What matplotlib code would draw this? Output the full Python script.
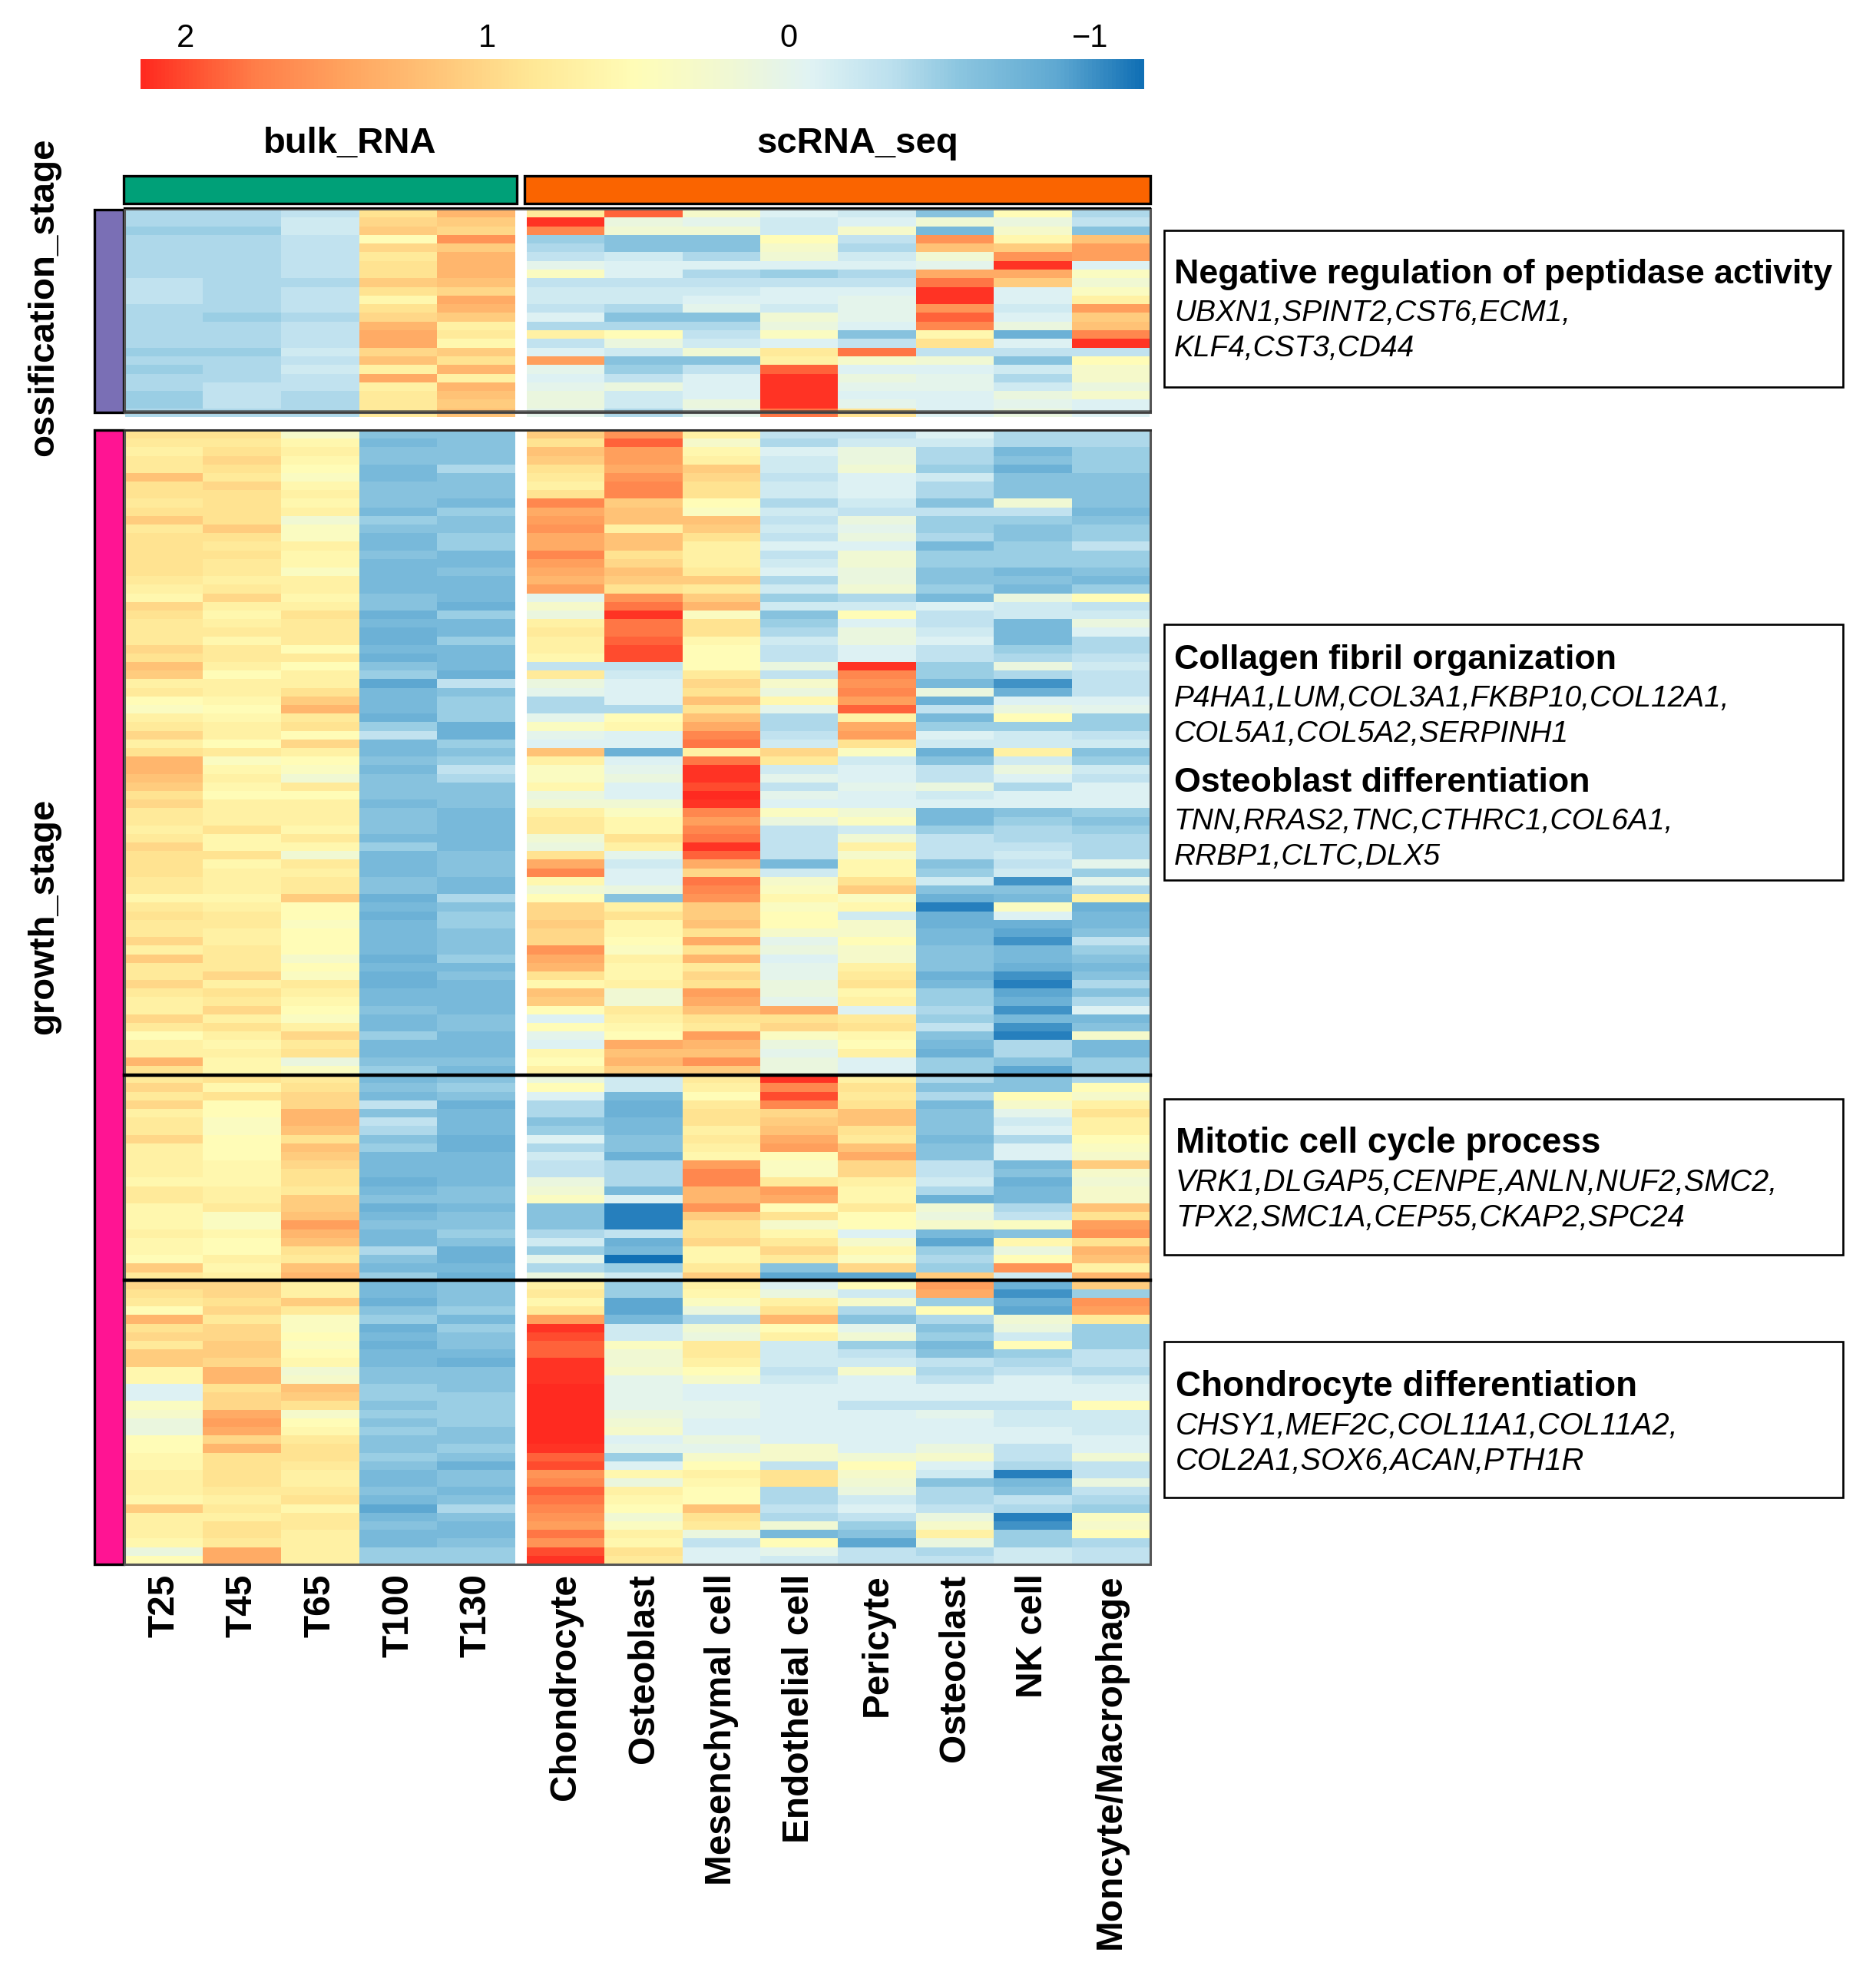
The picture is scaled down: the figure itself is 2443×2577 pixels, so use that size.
import numpy as np
import matplotlib
matplotlib.use("Agg")
import matplotlib.pyplot as plt
from matplotlib.colors import LinearSegmentedColormap
from matplotlib.patches import Rectangle

plt.rcParams['font.family'] = ['Liberation Sans', 'DejaVu Sans']

W, H = 2443, 2577

bulk_labels = ["T25", "T45", "T65", "T100", "T130"]
sc_labels = ["Chondrocyte", "Osteoblast", "Mesenchymal cell", "Endothelial cell",
             "Pericyte", "Osteoclast", "NK cell", "Moncyte/Macrophage"]
cbar_ticks = [2, 1, 0, -1]

# values in tenths of a unit, columns: T25..T130, then the eight cell types
ossification_rows = [
[-4,-4,-3,9,13,8,19,3,-1,-2,-6,5,-4],
[-4,-4,-2,10,11,21,1,0,-2,-1,2,1,-3],
[-5,-5,-2,11,10,17,2,2,-2,3,-7,3,-6],
[-4,-4,-3,5,16,-5,-6,-6,5,-3,16,6,12],
[-4,-4,-3,10,11,-4,-6,-6,3,-4,12,11,15],
[-4,-4,-3,8,13,-3,-2,-4,2,-2,2,16,15],
[-4,-4,-3,9,13,0,-1,-1,-1,-1,0,21,-1],
[-4,-4,-3,9,13,4,-1,-4,-5,-4,14,14,4],
[-3,-4,-4,11,12,-3,-3,-3,-3,-3,18,11,2],
[-3,-4,-3,9,10,-2,-2,-2,-1,-1,21,-1,4],
[-3,-4,-3,6,14,-2,-2,-1,-1,0,21,-1,7],
[-4,-4,-3,9,13,-3,-4,0,-2,0,16,-2,15],
[-4,-5,-4,10,11,-1,-6,-6,2,0,19,-1,11],
[-4,-4,-3,13,7,-4,-4,-4,1,-1,17,1,12],
[-4,-4,-3,14,8,7,5,-3,4,-6,6,-8,17],
[-4,-4,-3,14,6,-3,1,-2,-1,-3,9,-1,21],
[-5,-5,-2,10,11,-1,-2,2,8,18,-3,-3,-3],
[-4,-4,-3,12,9,15,-6,-6,7,3,2,-6,5],
[-5,-4,-2,7,13,0,-5,-3,19,-1,-1,-2,3],
[-4,-4,-3,14,7,-1,-3,-1,21,1,0,-4,3],
[-4,-3,-3,7,13,0,1,-1,21,0,0,-2,1],
[-5,-3,-4,8,12,1,-2,-1,21,-1,-1,1,3],
[-5,-3,-4,8,11,1,-2,1,21,0,-1,0,-1],
[-4,-4,-4,8,12,0,-4,0,18,9,-1,1,-1],
]
growth_rows_a = [
[9,9,3,-6,-6,11,16,7,-3,-3,-1,-4,-4],
[8,8,6,-7,-6,9,19,3,-4,-2,-2,-4,-4],
[7,9,7,-6,-6,12,15,6,-1,1,-4,-7,-5],
[8,10,6,-6,-6,11,15,7,-2,1,-4,-6,-5],
[8,9,5,-7,-4,9,14,11,-2,2,-5,-8,-5],
[12,8,4,-7,-6,8,16,10,-3,-1,-2,-6,-6],
[9,10,6,-6,-6,7,17,9,-2,-1,-4,-6,-6],
[9,9,7,-6,-6,9,17,9,-2,-1,-4,-6,-6],
[8,9,6,-6,-7,17,11,5,-4,-2,-6,2,-6],
[9,9,7,-7,-5,14,12,4,-2,-3,-3,-3,-7],
[11,9,2,-5,-6,15,12,12,-3,1,-5,-5,-6],
[8,11,4,-6,-6,16,7,11,-2,0,-5,-6,-5],
[9,9,4,-7,-5,14,12,9,-3,1,-4,-6,-5],
[9,8,7,-7,-5,14,12,7,-1,-1,-7,-5,-3],
[9,9,6,-6,-7,17,9,7,-3,2,-5,-5,-5],
[9,8,6,-7,-7,15,10,7,-2,2,-5,-5,-5],
[9,8,4,-7,-6,14,12,8,-1,1,-6,-7,-6],
[8,7,7,-7,-7,13,11,11,-4,1,-6,-6,-7],
[7,8,7,-7,-7,15,9,8,-2,2,-5,-7,-5],
[6,10,6,-6,-7,0,16,11,-5,-4,-7,1,5],
[10,7,7,-6,-8,3,18,13,-2,-2,-1,-2,-3],
[9,6,9,-8,-5,1,21,4,-6,5,-3,-2,-2],
[8,7,8,-7,-7,7,18,9,-5,-1,-3,-7,1],
[8,8,8,-8,-7,8,18,9,-4,1,-2,-7,-1],
[8,6,8,-8,-5,7,19,6,-2,1,-1,-7,-4],
[10,8,5,-7,-7,7,20,5,-3,-1,-3,-5,-4],
[9,8,8,-8,-7,6,20,5,-3,-1,-3,-4,-3],
[12,7,5,-6,-7,-3,-3,5,1,21,-5,1,-2],
[11,5,7,-5,-8,8,-2,8,-3,17,-5,-4,-3],
[7,7,7,-9,-3,1,-1,10,3,16,-7,-10,-3],
[8,7,9,-7,-6,0,-1,9,1,17,1,-8,-3],
[5,6,11,-7,-5,-4,-1,12,6,15,-8,-1,-1],
[4,5,13,-7,-5,-4,-4,9,0,19,-3,1,0],
[7,6,8,-8,-5,0,5,12,-4,7,-7,5,-5],
[8,7,9,-5,-8,4,6,14,-4,14,-5,-5,-5],
[10,7,5,-3,-8,0,-1,17,-3,15,-1,-2,-3],
[7,5,10,-7,-5,-1,-1,18,-2,9,-2,-2,-2],
[9,8,7,-7,-6,12,-8,7,10,4,-8,7,-6],
[13,4,5,-6,-5,7,-1,18,8,-2,-6,-2,-5],
[13,6,4,-7,-3,4,0,21,-2,-1,-3,1,-2],
[12,7,2,-6,-4,4,1,21,0,-1,-3,-1,-3],
[11,6,8,-6,-6,6,-1,20,-3,0,1,-4,-1],
[9,5,5,-6,-6,1,-1,22,0,-1,-2,-1,-1],
[10,7,7,-7,-6,2,2,21,-1,-1,-1,-1,-1],
[8,7,7,-6,-7,7,4,17,4,2,-7,-6,-5],
[8,7,7,-6,-7,8,6,15,1,4,-7,-5,-6],
[7,9,6,-6,-7,8,6,17,-3,-2,-5,-4,-5],
[8,6,8,-7,-7,2,9,18,-3,2,-3,-4,-4],
[10,6,6,-5,-7,1,7,21,-3,7,-3,-3,-4],
[9,9,2,-7,-6,9,0,19,-3,3,-3,-2,-4],
[9,6,8,-7,-6,14,-2,14,-7,6,-6,-3,0],
[9,7,7,-7,-6,17,-1,10,-2,6,-5,-2,-5],
[8,7,8,-6,-7,6,-1,18,3,9,-2,-10,0],
[8,7,8,-6,-7,2,1,17,4,11,-6,-6,-4],
[6,6,11,-8,-4,5,-6,16,6,4,-8,-7,7],
[8,7,5,-7,-6,10,7,11,4,6,-11,4,-8],
[9,8,5,-8,-5,10,9,11,5,-2,-8,-1,-7],
[8,8,4,-7,-5,11,6,12,5,3,-8,-8,-7],
[8,7,5,-7,-6,10,6,9,3,3,-7,-9,-6],
[10,7,5,-7,-6,10,5,14,0,5,-7,-10,-3],
[7,8,5,-7,-6,16,4,9,1,3,-6,-7,-5],
[11,8,3,-8,-5,14,7,13,-1,3,-6,-7,-6],
[8,8,5,-7,-7,13,6,8,0,7,-6,-8,-7],
[8,10,4,-8,-6,9,6,10,0,8,-8,-10,-6],
[10,7,8,-8,-7,6,7,9,1,9,-7,-11,-4],
[8,9,7,-7,-7,12,2,15,1,6,-5,-9,-6],
[7,8,6,-7,-7,11,2,14,0,7,-5,-8,-4],
[7,10,5,-6,-7,5,8,12,14,-1,-4,-10,-1],
[10,7,4,-7,-6,-1,7,9,9,8,-5,-7,-7],
[8,9,7,-7,-6,5,6,8,10,9,-3,-10,-6],
[5,7,10,-5,-7,0,5,15,4,6,-6,-11,3],
[7,6,8,-7,-7,-1,14,13,1,5,-7,-4,-7],
[7,7,9,-7,-7,6,12,12,0,7,-8,-4,-7],
[13,6,1,-6,-6,5,13,16,1,-1,-5,-6,-5],
[9,6,4,-5,-7,7,11,11,1,-1,-5,-9,-5],
]
growth_rows_b = [
[8,9,8,-7,-6,1,-2,8,21,7,-4,-6,-4],
[10,6,9,-6,-5,5,-2,7,17,9,-6,-6,5],
[8,9,10,-7,-6,-1,-7,5,20,8,-4,5,3],
[10,5,10,-3,-8,-4,-8,8,17,9,-7,3,7],
[7,5,13,-6,-7,-4,-8,9,10,12,-6,0,9],
[8,4,13,-3,-7,-6,-7,9,11,12,-6,-2,7],
[8,4,12,-4,-7,-5,-7,7,12,9,-6,-1,7],
[10,5,9,-6,-8,-1,-6,8,14,8,-7,-4,5],
[7,5,12,-5,-8,-4,-6,7,15,12,-6,-1,4],
[7,5,11,-7,-7,-2,-8,6,5,14,-6,-1,3],
[7,6,10,-7,-7,-3,-4,15,4,10,-3,-7,11],
[7,6,9,-7,-7,-3,-4,17,4,10,-3,-6,3],
[6,6,9,-8,-7,1,-4,17,8,7,-2,-8,2],
[8,7,8,-7,-6,2,-7,13,15,6,-4,-7,3],
[8,7,11,-6,-6,4,-1,13,14,6,-8,-7,3],
[6,8,11,-8,-7,-6,-11,16,5,8,2,-4,12],
[6,4,12,-7,-6,-6,-11,11,9,5,1,-3,9],
[6,4,15,-6,-6,-6,-11,9,3,5,3,4,15],
[7,6,13,-7,-5,-4,-3,9,6,-1,-7,-6,16],
[6,5,12,-7,-6,-2,-8,10,8,3,-9,6,9],
[6,5,9,-4,-8,-5,-7,6,10,6,-5,1,13],
[5,7,8,-6,-8,0,-12,6,8,4,-4,5,12],
[11,6,12,-7,-7,-4,-5,8,-6,10,-5,16,7],
[8,7,13,-5,-8,1,-2,11,-9,-9,11,-2,13],
]
growth_rows_c = [
[10,10,7,-7,-6,7,-5,7,-1,5,15,-8,11],
[9,10,7,-7,-6,8,-5,6,1,-2,14,-10,-5],
[8,9,11,-8,-6,6,-9,4,7,3,-5,-8,16],
[5,10,8,-6,-5,8,-9,1,9,-4,5,-9,15],
[13,8,4,-5,-7,15,-7,-4,13,-6,-4,2,8],
[9,10,4,-8,-5,21,-2,2,5,0,-6,1,-5],
[10,10,5,-7,-6,20,-2,1,7,2,-5,-2,-5],
[8,11,4,-8,-6,19,4,8,-2,-5,-7,5,-5],
[11,11,5,-7,-7,19,2,8,-2,-3,-6,-5,-3],
[11,10,6,-7,-8,21,2,7,-2,-2,-3,-4,-3],
[6,13,2,-6,-6,21,3,5,-3,3,-4,-3,-4],
[6,13,3,-6,-6,21,0,3,-2,-1,-3,-1,-2],
[-1,9,12,-5,-6,22,0,-1,-1,-1,-1,-1,-1],
[-1,10,11,-5,-5,22,0,-1,-1,-1,-1,-1,-1],
[4,10,9,-6,-5,22,0,0,-1,-3,-3,-3,5],
[3,14,3,-5,-5,22,1,0,-1,-1,0,-2,-2],
[1,15,5,-6,-5,22,2,-1,-1,-1,-1,-2,-2],
[1,14,6,-5,-6,22,3,-1,-1,-1,-1,-1,-2],
[5,10,8,-6,-6,22,-1,1,-1,-1,-1,-1,-1],
[5,13,9,-6,-5,21,0,0,3,-1,1,-3,-1],
[6,9,9,-5,-6,19,-5,3,3,2,3,-3,2],
[6,9,8,-6,-8,20,-1,5,-3,5,-1,-4,-3],
[7,9,7,-7,-6,16,6,7,9,3,-2,-11,-3],
[7,9,7,-7,-6,17,1,6,9,2,-6,-7,1],
[7,8,8,-6,-7,19,7,5,-4,1,-4,-6,-3],
[6,7,9,-7,-6,18,6,5,-4,-2,-4,-3,-4],
[11,8,6,-9,-4,17,5,12,-3,-1,-3,-4,-5],
[7,7,8,-7,-6,16,2,9,-4,-3,1,-11,4],
[7,9,8,-6,-7,15,4,8,2,-5,3,-10,3],
[7,9,7,-7,-7,18,7,1,-7,-6,7,-5,5],
[6,8,7,-7,-6,16,6,-3,5,-9,1,-5,-4],
[1,14,7,-5,-5,20,9,-1,0,-3,-4,-2,-3],
[5,14,7,-5,-5,21,8,-1,-2,-3,-3,-2,-3],
]

group_titles = ["bulk_RNA", "scRNA_seq"]
stage_titles = ["ossification_stage", "growth_stage"]
notes = [
    (357, "Negative regulation of peptidase activity", True),
    (408, "UBXN1,SPINT2,CST6,ECM1,", False),
    (454, "KLF4,CST3,CD44", False),
    (859, "Collagen fibril organization", True),
    (910, "P4HA1,LUM,COL3A1,FKBP10,COL12A1,", False),
    (956, "COL5A1,COL5A2,SERPINH1", False),
    (1019, "Osteoblast differentiation", True),
    (1070, "TNN,RRAS2,TNC,CTHRC1,COL6A1,", False),
    (1116, "RRBP1,CLTC,DLX5", False),
    (1489, "Mitotic cell cycle process", True),
    (1540, "VRK1,DLGAP5,CENPE,ANLN,NUF2,SMC2,", False),
    (1586, "TPX2,SMC1A,CEP55,CKAP2,SPC24", False),
    (1806, "Chondrocyte differentiation", True),
    (1857, "CHSY1,MEF2C,COL11A1,COL11A2,", False),
    (1903, "COL2A1,SOX6,ACAN,PTH1R", False),
]

cmap = LinearSegmentedColormap.from_list("heat", [
    (0.00, "#1170B5"), (0.084, "#5FA9D2"), (0.183, "#8CC6E0"), (0.25, "#BCE0EE"),
    (0.285, "#CBE8F1"), (0.33, "#E0F3F4"), (0.41, "#F0F8D5"), (0.505, "#FFFDB8"),
    (0.61, "#FFE896"), (0.695, "#FFC97C"), (0.795, "#FFA560"), (0.886, "#FF7F4A"),
    (0.945, "#FF5533"), (1.00, "#FF2A20")])
VMIN, VMAX = -1.18, 2.15

fig = plt.figure(figsize=(W / 100, H / 100), dpi=100, facecolor="white")


def px_axes(x0, y0, x1, y1):
    return fig.add_axes([x0 / W, 1 - y1 / H, (x1 - x0) / W, (y1 - y0) / H])


def heat(rect, rows):
    ax = px_axes(*rect)
    ax.imshow(rows / 10, cmap=cmap, vmin=VMIN, vmax=VMAX, aspect="auto",
              interpolation="nearest")
    ax.set_yticks([])
    ax.set_xticks([])
    for s in ax.spines.values():
        s.set_visible(False)
    return ax


BULK_X, SC_X = (163, 671), (686, 1497)
top = np.array(ossification_rows)
growth = np.array(growth_rows_a + growth_rows_b + growth_rows_c)

heat((BULK_X[0], 272, BULK_X[1], 543), top[:, :5])
heat((SC_X[0], 272, SC_X[1], 543), top[:, 5:])
a1 = heat((BULK_X[0], 560, BULK_X[1], 2037), growth[:, :5])
a2 = heat((SC_X[0], 560, SC_X[1], 2037), growth[:, 5:])
for ax, labels in ((a1, bulk_labels), (a2, sc_labels)):
    ax.set_xticks(range(len(labels)))
    ax.set_xticklabels(labels, rotation=90, fontsize=34.4, fontweight="bold",
                       ha="center", va="top")
    ax.tick_params(axis="x", length=0, pad=9)

# colour key
cax = px_axes(183, 77, 1490, 116)
grad = np.linspace(VMAX, VMIN, 400)[None, :]
cax.imshow(grad, cmap=cmap, vmin=VMIN, vmax=VMAX, aspect="auto",
           extent=(VMAX, VMIN, 0, 1), interpolation="bilinear")
cax.set_yticks([])
cax.xaxis.tick_top()
cax.set_xticks(cbar_ticks)
cax.set_xticklabels(["2", "1", "0", "\u22121"], fontsize=30)
cax.tick_params(axis="x", length=0, pad=5)
for s in cax.spines.values():
    s.set_visible(False)

# overlay in pixel space for bars, frames and notes
ov = fig.add_axes([0, 0, 1, 1], zorder=5)
ov.set_xlim(0, W)
ov.set_ylim(H, 0)
ov.axis("off")
ov.patch.set_alpha(0)


def box(x0, y0, x1, y1, fc="none", ec="black", lw=2.0, alpha=1.0):
    ov.add_patch(Rectangle((x0, y0), x1 - x0, y1 - y0, facecolor=fc, edgecolor=ec,
                           linewidth=lw, alpha=alpha))


box(161, 229, 673, 265, fc="#00A078", lw=2.4)
box(683, 229, 1498, 265, fc="#FA6400", lw=2.4)
box(123, 273, 161, 537, fc="#7A6FB5", lw=2.4)
box(123, 560, 161, 2037, fc="#FF1493", lw=2.4)
box(162, 272, 1498, 537, ec="#555555", lw=2.2)
box(162, 560, 1498, 2037, ec="#555555", lw=2.2)
ov.plot([162, 1498], [271, 271], color="black", lw=1.6)
ov.plot([162, 1498], [536, 536], color="#333333", lw=2.6, alpha=0.7)
ov.plot([162, 1498], [560, 560], color="#222222", lw=2.0, alpha=0.8)
ov.plot([162, 1498], [1400, 1400], color="black", lw=3.2)
ov.plot([162, 1498], [1667, 1667], color="black", lw=3.2)

ov.text(456, 187, group_titles[0], fontsize=34, fontweight="bold", ha="center", va="center")
ov.text(1117, 187, group_titles[1], fontsize=34, fontweight="bold", ha="center", va="center")
ov.text(57, 387, stage_titles[0], fontsize=34.2, fontweight="bold", rotation=90,
        ha="center", va="center")
ov.text(57, 1193, stage_titles[1], fontsize=34, fontweight="bold", rotation=90,
        ha="center", va="center")

for y0, y1 in ((300, 504), (813, 1146), (1431, 1634), (1747, 1950)):
    box(1516, y0, 2400, y1, lw=1.9)
for y, txt, is_head in notes:
    lower = y > 1400
    ov.text(1531 if lower else 1529, y, txt, ha="left", va="center",
            fontsize=(33 if lower else 32.2) if is_head else (28.6 if lower else 28),
            fontweight="bold" if is_head else "normal",
            fontstyle="normal" if is_head else "italic")

fig.savefig("out.png", dpi=100, facecolor="white")
